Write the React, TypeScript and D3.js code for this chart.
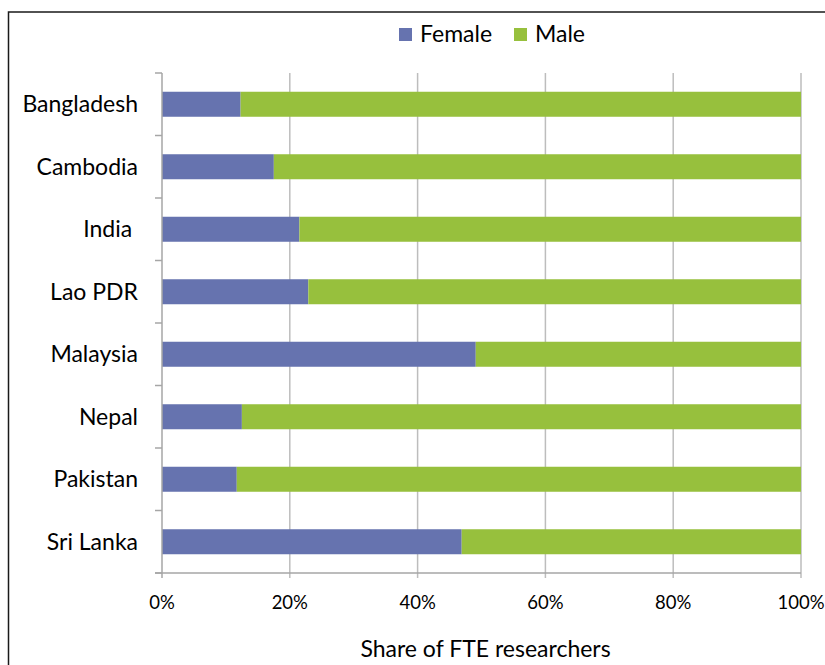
import React, { useEffect, useRef } from "react";
import * as d3 from "d3";

const countries = ["Bangladesh", "Cambodia", "India ", "Lao PDR", "Malaysia", "Nepal", "Pakistan", "Sri Lanka"];
const female = [12.3, 17.5, 21.5, 22.9, 49.1, 12.5, 11.7, 46.9];
const male = female.map(f => 100 - f);
const seriesNames = ["Female", "Male"];
const seriesColors = ["#6673AF", "#97C03D"];
const xTicks = [0, 20, 40, 60, 80, 100];

const FONT = "Lato, 'Open Sans', sans-serif";

const App = () => {
    const svgRef = useRef<SVGSVGElement>(null);

    useEffect(() => {
        const svg = d3.select(svgRef.current);
        svg.selectAll("*").remove();

        const left = 162, right = 801, top = 73, bottom = 573;

        const x = d3.scaleLinear().domain([0, 100]).range([left, right]);
        const y = d3.scaleBand<string>()
            .domain(countries)
            .range([top, bottom])
            .paddingInner(0.6)
            .paddingOuter(0.3);

        // outer frame
        svg.append("rect")
            .attr("x", 8.5).attr("y", 12)
            .attr("width", 900).attr("height", 700)
            .attr("fill", "white")
            .attr("stroke", "#1a1a1a")
            .attr("stroke-width", 1.5);

        // gridlines
        svg.append("g")
            .selectAll("line")
            .data(xTicks.slice(1))
            .join("line")
            .attr("x1", d => x(d)).attr("x2", d => x(d))
            .attr("y1", top).attr("y2", bottom + 5)
            .attr("stroke", "#BDBDBD")
            .attr("stroke-width", 1.5);

        // stacked bars
        const table = countries.map((c, i) => ({ country: c, Female: female[i], Male: male[i] }));
        const stacked = d3.stack<any>().keys(seriesNames)(table);
        svg.append("g")
            .selectAll("g")
            .data(stacked)
            .join("g")
            .attr("fill", (_, i) => seriesColors[i])
            .selectAll("rect")
            .data(d => d)
            .join("rect")
            .attr("x", d => x(d[0]))
            .attr("width", d => x(d[1]) - x(d[0]))
            .attr("y", d => y(d.data.country)!)
            .attr("height", y.bandwidth());

        // y axis line and ticks at band boundaries
        const bounds = d3.range(countries.length + 1).map(i => top + i * y.step());
        svg.append("line")
            .attr("x1", left).attr("x2", left)
            .attr("y1", top).attr("y2", bottom + 5)
            .attr("stroke", "#A6A6A6").attr("stroke-width", 1.5);
        svg.append("g")
            .selectAll("line")
            .data(bounds)
            .join("line")
            .attr("x1", left - 7).attr("x2", left)
            .attr("y1", d => d).attr("y2", d => d)
            .attr("stroke", "#A6A6A6").attr("stroke-width", 1.5);

        // x axis line
        svg.append("line")
            .attr("x1", left - 7).attr("x2", right)
            .attr("y1", bottom).attr("y2", bottom)
            .attr("stroke", "#A6A6A6").attr("stroke-width", 1.5);

        // category labels
        svg.append("g")
            .selectAll("text")
            .data(countries)
            .join("text")
            .attr("x", 138)
            .attr("y", d => y(d)! + y.bandwidth() / 2)
            .attr("dy", "0.35em")
            .attr("text-anchor", "end")
            .style("white-space", "pre")
            .style("font-family", FONT)
            .style("font-size", "23px")
            .attr("fill", "#000")
            .text(d => d);

        // x tick labels
        svg.append("g")
            .selectAll("text")
            .data(xTicks)
            .join("text")
            .attr("x", d => x(d))
            .attr("y", 609)
            .attr("text-anchor", "middle")
            .style("font-family", FONT)
            .style("font-size", "18.5px")
            .attr("fill", "#000")
            .text(d => `${d}%`);

        // axis title
        svg.append("text")
            .attr("x", (left + right) / 2 + 4)
            .attr("y", 657)
            .attr("text-anchor", "middle")
            .style("font-family", FONT)
            .style("font-size", "23px")
            .attr("fill", "#000")
            .text("Share of FTE researchers");

        // legend
        const legendX = [399, 514];
        const legend = svg.append("g");
        seriesNames.forEach((name, i) => {
            const row = legend.append("g").attr("transform", `translate(${legendX[i]}, 28)`);
            row.append("rect")
                .attr("width", 13).attr("height", 13)
                .attr("fill", seriesColors[i]);
            row.append("text")
                .attr("x", 21).attr("y", 14)
                .style("font-family", FONT)
                .style("font-size", "23px")
                .attr("fill", "#000")
                .text(name);
        });
    }, []);

    return (
        <svg
            ref={svgRef}
            width={825}
            height={665}
            style={{ position: "absolute", left: 0, top: 0, display: "block" }}
        ></svg>
    );
};

export default App;
